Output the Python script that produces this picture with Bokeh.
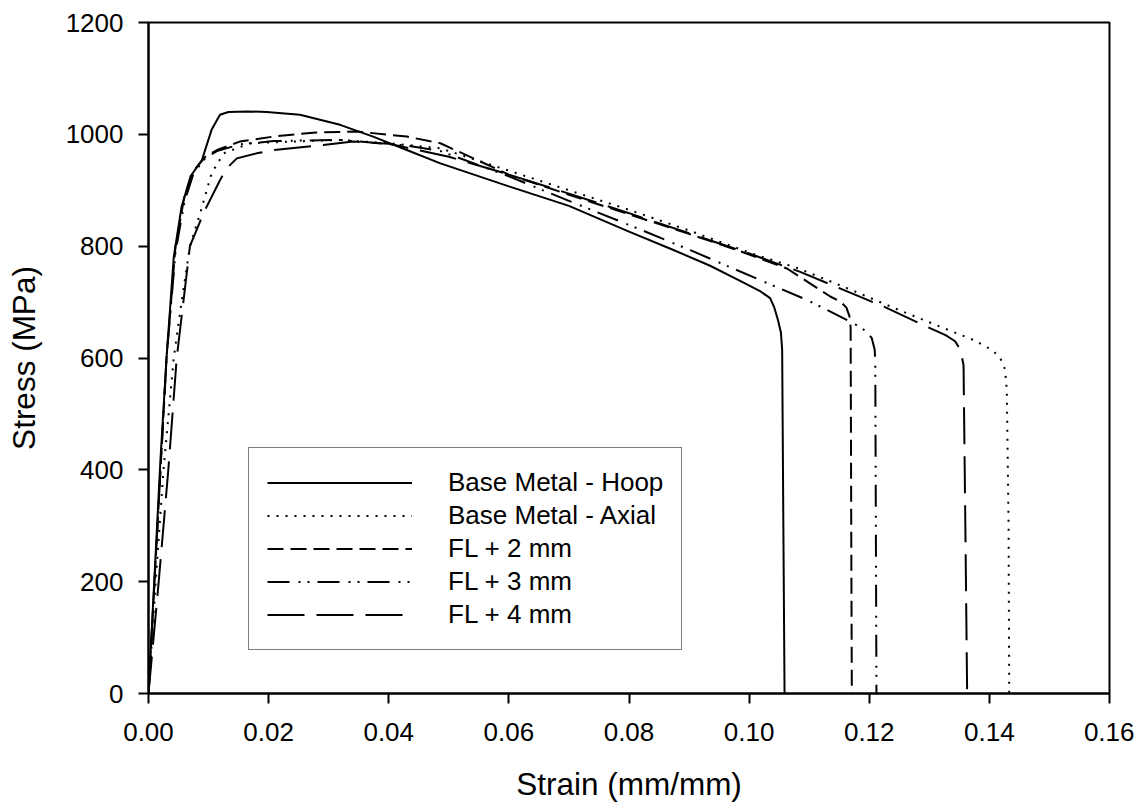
from bokeh.plotting import figure
from bokeh.models import Range1d, FixedTicker, PrintfTickFormatter, Legend, LegendItem
from bokeh.embed import file_html
from bokeh.resources import INLINE

# ---------------- data ----------------
hoop_strain = [0, 0.001, 0.002, 0.003, 0.0042, 0.0055, 0.007, 0.0089, 0.0105, 0.0119, 0.0133,
               0.0165, 0.0197, 0.0252, 0.0319, 0.0374, 0.043, 0.0486, 0.06, 0.07, 0.08, 0.087,
               0.0935, 0.0985, 0.1019, 0.1035, 0.1042, 0.1048, 0.1053, 0.1055, 0.1057, 0.1059]
hoop_stress = [0, 210, 420, 600, 780, 870, 925, 954, 1008, 1035, 1040,
               1041, 1040, 1035, 1017, 996, 972, 948, 907, 872, 826, 795,
               765, 738, 719, 707, 690, 668, 645, 614, 300, 0]

axial_strain = [0, 0.0012, 0.0025, 0.0042, 0.0055, 0.0069, 0.0086, 0.0105, 0.0125, 0.0169,
                0.0236, 0.0319, 0.0402, 0.0486, 0.06, 0.07, 0.08, 0.09, 0.1007, 0.108, 0.1163,
                0.124, 0.1318, 0.1374, 0.1405, 0.1418, 0.1426, 0.1429, 0.1432, 0.1433]
axial_stress = [0, 200, 400, 600, 700, 800, 859, 930, 966, 984,
                987, 990, 984, 975, 935, 900, 865, 828, 786, 761, 725,
                690, 656, 632, 614, 600, 580, 543, 300, 0]

fl2_strain = [0, 0.001, 0.002, 0.003, 0.0045, 0.006, 0.0075, 0.0095, 0.0114, 0.0152, 0.0208,
              0.0274, 0.0347, 0.043, 0.0486, 0.06, 0.07, 0.08, 0.09, 0.098, 0.1063, 0.1135,
              0.1152, 0.1162, 0.1167, 0.1169, 0.117, 0.1171]
fl2_stress = [0, 200, 400, 600, 800, 890, 935, 960, 972, 987, 996,
              1003, 1005, 996, 984, 928, 892, 857, 822, 793, 760, 710,
              701, 690, 675, 655, 300, 0]

fl3_strain = [0, 0.001, 0.002, 0.003, 0.0045, 0.006, 0.0075, 0.0095, 0.0114, 0.0152, 0.0208,
              0.0319, 0.043, 0.0486, 0.06, 0.07, 0.08, 0.0902, 0.1019, 0.1096, 0.1174, 0.1195,
              0.1204, 0.1209, 0.121, 0.1211, 0.1212]
fl3_stress = [0, 200, 400, 600, 790, 880, 930, 958, 970, 982, 988,
              990, 980, 970, 925, 881, 838, 793, 739, 704, 662, 648,
              636, 615, 596, 300, 0]

fl4_strain = [0, 0.0017, 0.0033, 0.0047, 0.0069, 0.0092, 0.0119, 0.013, 0.0147, 0.018, 0.0208,
              0.0291, 0.0341, 0.04, 0.05, 0.06, 0.07, 0.08, 0.09, 0.1, 0.1085, 0.1224, 0.1302,
              0.1327, 0.1343, 0.1352, 0.1357, 0.136, 0.1363]
fl4_stress = [0, 200, 400, 600, 800, 860, 918, 939, 957, 966, 972,
              981, 987, 983, 960, 928, 894, 859, 823, 787, 754, 692, 653,
              641, 630, 614, 587, 300, 0]

series_names = ["Base Metal - Hoop", "Base Metal - Axial", "FL + 2 mm", "FL + 3 mm", "FL + 4 mm"]
x_ticks = [0, 0.02, 0.04, 0.06, 0.08, 0.10, 0.12, 0.14, 0.16]
y_ticks = [0, 200, 400, 600, 800, 1000, 1200]

# ---------------- figure ----------------
FONT = "Liberation Sans"
p = figure(frame_width=961, frame_height=671, output_backend="svg", toolbar_location=None,
           x_range=Range1d(0, 0.16), y_range=Range1d(0, 1200),
           min_border_left=148, min_border_right=25, min_border_top=22, min_border_bottom=100)
p.background_fill_color = "white"
p.border_fill_color = "white"
p.outline_line_color = "black"
p.outline_line_width = 2
p.grid.visible = False

p.xaxis.ticker = FixedTicker(ticks=x_ticks)
p.yaxis.ticker = FixedTicker(ticks=y_ticks)
p.xaxis.formatter = PrintfTickFormatter(format="%.2f")
p.yaxis.formatter = PrintfTickFormatter(format="%d")
for ax in (p.xaxis, p.yaxis):
    ax.axis_line_color = "black"
    ax.axis_line_width = 2
    ax.major_tick_line_color = "black"
    ax.major_tick_line_width = 2
    ax.major_tick_out = 10
    ax.major_tick_in = 0
    ax.minor_tick_line_color = None
    ax.major_label_text_font = FONT
    ax.major_label_text_font_size = "26px"
    ax.major_label_text_color = "black"
    ax.axis_label_text_font = FONT
    ax.axis_label_text_font_size = "31.5px"
    ax.axis_label_text_font_style = "normal"
    ax.axis_label_text_color = "black"
p.xaxis.major_label_standoff = 19
p.yaxis.major_label_standoff = 15
p.xaxis.axis_label = "Strain (mm/mm)"
p.yaxis.axis_label = "Stress (MPa)"
p.xaxis.axis_label_standoff = 22
p.yaxis.axis_label_standoff = 21

styles = [
    (hoop_strain, hoop_stress, "solid"),
    (axial_strain, axial_stress, "2 7"),
    (fl2_strain, fl2_stress, "16 7"),
    (fl3_strain, fl3_stress, "22 9 2 7 2 8"),
    (fl4_strain, fl4_stress, "37 12"),
]
items = []
for name, (xs, ys, dash) in zip(series_names, styles):
    r = p.line(xs, ys, line_color="black", line_width=2, line_dash=dash)
    items.append(LegendItem(label=name, renderers=[r]))

legend = Legend(items=items, location=(100, 43), orientation="vertical",
                glyph_width=145, glyph_height=33, label_height=33, spacing=0,
                label_standoff=36, padding=18, margin=0,
                border_line_color="black", border_line_width=1,
                background_fill_color="white", background_fill_alpha=1.0,
                label_text_font=FONT, label_text_font_size="26px", label_text_color="black")
p.add_layout(legend, "center")

open("out.html", "w").write(file_html(p, INLINE))
